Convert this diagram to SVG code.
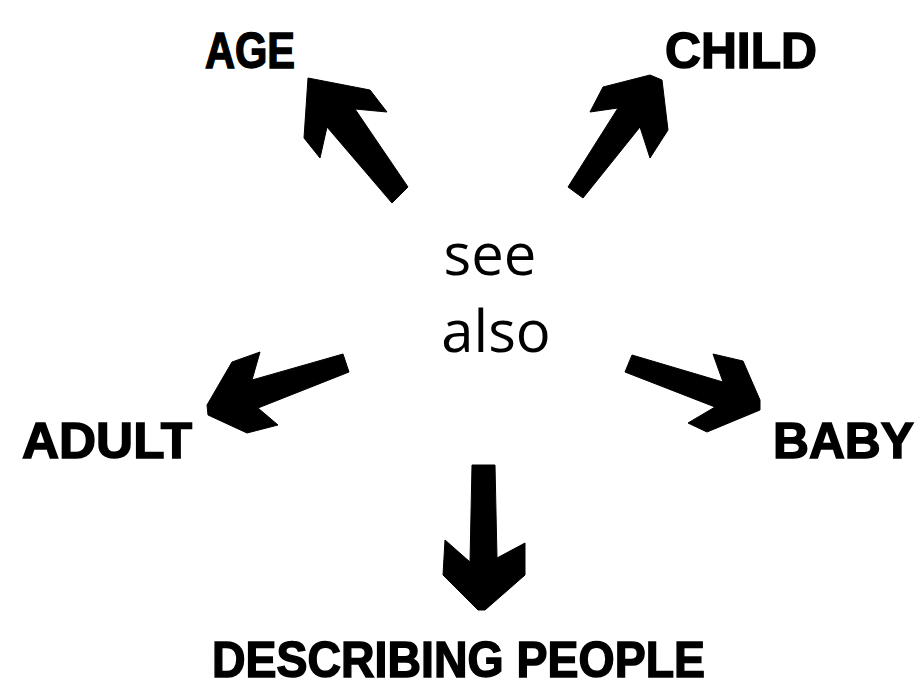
<svg xmlns="http://www.w3.org/2000/svg" width="917" height="689" viewBox="0 0 917 689">
<style>
.lbl{font-family:"Liberation Sans",Arial,sans-serif;font-weight:bold;font-size:50px;fill:#000;stroke:#000;stroke-width:1.5}
.ctr{font-family:"Open Sans","DejaVu Sans",sans-serif;font-size:58px;fill:#000;text-anchor:middle}
.arr{fill:#000;stroke:#000;stroke-width:1;stroke-linejoin:round}
</style>
<rect width="917" height="689" fill="#fff"/>
<g id="center">
<text class="ctr" x="490" y="275">see</text>
<text class="ctr" x="496" y="352">also</text>
</g>
<g id="age"><text class="lbl" x="205" y="68" textLength="90" lengthAdjust="spacingAndGlyphs">AGE</text></g>
<g id="child"><text class="lbl" x="665" y="68" textLength="152" lengthAdjust="spacingAndGlyphs">CHILD</text></g>
<g id="adult"><text class="lbl" x="22" y="458" textLength="170" lengthAdjust="spacingAndGlyphs">ADULT</text></g>
<g id="baby"><text class="lbl" x="773" y="458" textLength="141" lengthAdjust="spacingAndGlyphs">BABY</text></g>
<g id="describing-people"><text class="lbl" x="212" y="677" font-size="47" textLength="493" lengthAdjust="spacingAndGlyphs">DESCRIBING PEOPLE</text></g>
<g id="connectors">
<polygon class="arr" points="308,78 370,90 387,112 355,109 408,187 392,203 327,127 320,158 304,138"/>
<polygon class="arr" points="650,75 662,80 668,130 650,158 640,127 583,198 568,187 618,108 590,112 603,87"/>
<polygon class="arr" points="207,405 232,362 260,352 252,380 343,354 349,372 258,408 278,425 247,433 208,415"/>
<polygon class="arr" points="632,355 723,382 713,354 743,361 760,400 760,410 707,432 688,423 715,407 625,372"/>
<polygon class="arr" points="472,465 495,465 497,558 525,543 525,575 485,610 478,610 443,575 445,540 470,562"/>
</g>
</svg>
